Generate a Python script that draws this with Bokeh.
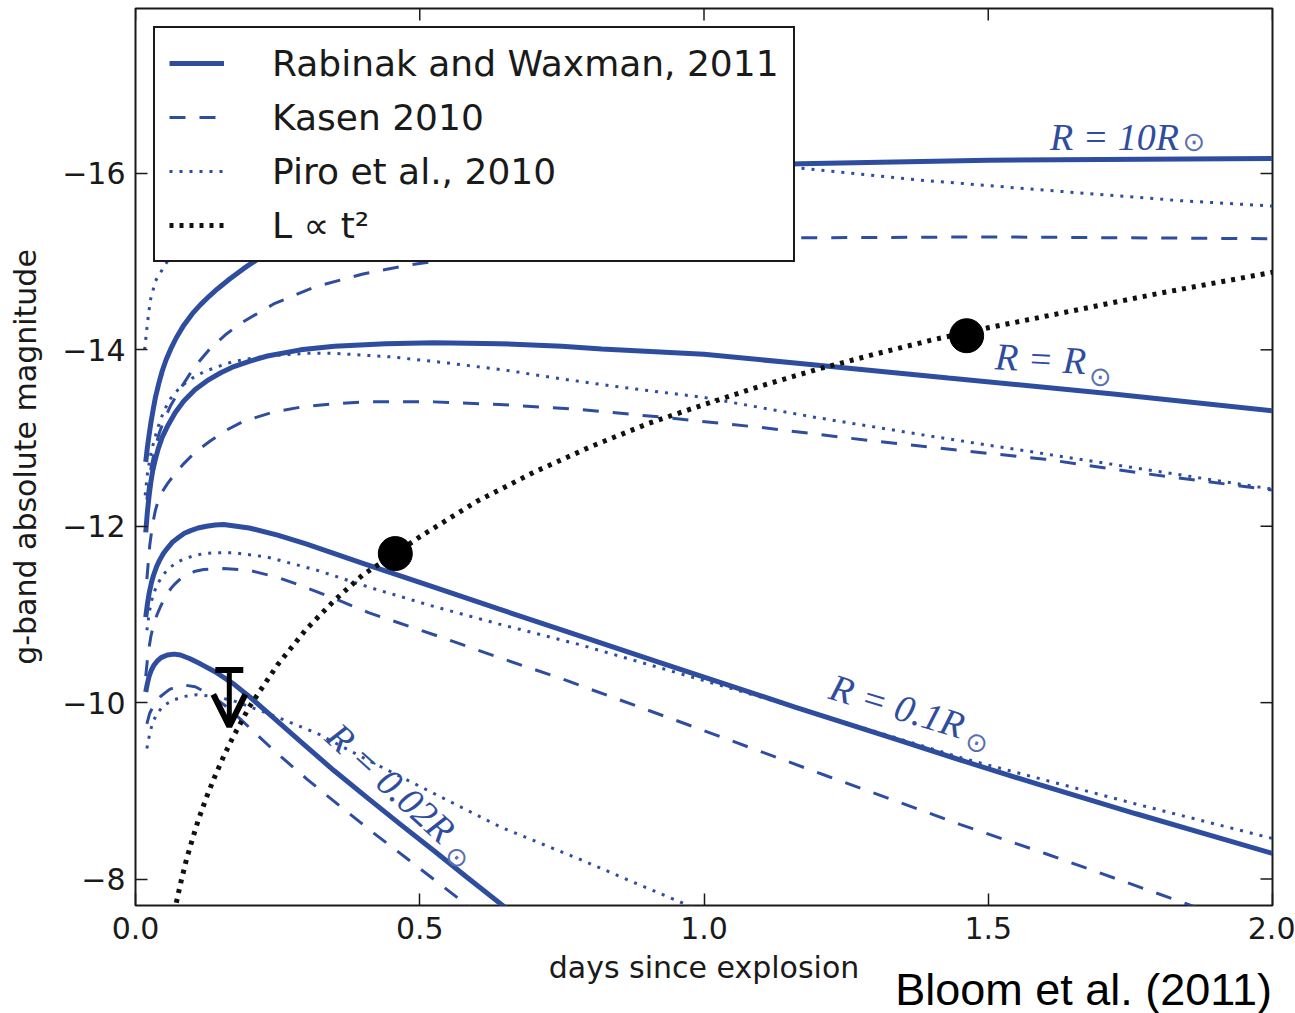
from bokeh.plotting import figure
from bokeh.layouts import column
from bokeh.models import (Range1d, FixedTicker, Legend, LegendItem,
                          Label, Arrow, OpenHead, Div)
from bokeh.embed import file_html
from bokeh.resources import INLINE

# ---------------------------------------------------------------- data
# g-band absolute magnitude vs. days since explosion, for four progenitor radii
# Rabinak & Waxman 2011 (solid)
t_rw_10 = [0.018, 0.021, 0.024, 0.027, 0.031, 0.035, 0.041, 0.047, 0.054, 0.062, 0.072, 0.085, 0.1, 0.114, 0.13, 0.144, 0.165, 0.19, 0.22, 0.25, 0.3, 0.35, 0.42, 0.5, 0.6, 0.7, 0.9, 1.17, 1.5, 2.0]
m_rw_10 = [-12.73, -12.90, -13.04, -13.17, -13.32, -13.46, -13.62, -13.76, -13.89, -14.01, -14.14, -14.28, -14.41, -14.51, -14.61, -14.69, -14.80, -14.92, -15.05, -15.17, -15.33, -15.47, -15.62, -15.76, -15.88, -15.97, -16.06, -16.11, -16.15, -16.17]

t_rw_1 = [0.018, 0.021, 0.024, 0.027, 0.03, 0.035, 0.04, 0.047, 0.056, 0.07, 0.085, 0.105, 0.126, 0.15, 0.173, 0.2, 0.232, 0.29, 0.35, 0.44, 0.525, 0.64, 0.75, 0.82, 1.0, 1.16, 1.43, 1.72, 2.0]
m_rw_1 = [-11.93, -12.17, -12.35, -12.50, -12.62, -12.76, -12.88, -13.01, -13.13, -13.29, -13.42, -13.55, -13.65, -13.74, -13.81, -13.87, -13.93, -14.00, -14.04, -14.07, -14.08, -14.07, -14.04, -14.01, -13.95, -13.85, -13.68, -13.50, -13.31]

t_rw_01 = [0.018, 0.021, 0.024, 0.028, 0.032, 0.037, 0.042, 0.049, 0.056, 0.065, 0.075, 0.086, 0.097, 0.11, 0.125, 0.14, 0.155, 0.2, 0.25, 0.3, 0.35, 0.4, 0.45, 0.525, 0.64, 0.78, 0.92, 1.0, 1.16, 1.33, 1.46, 1.59, 1.76, 2.0]
m_rw_01 = [-10.97, -11.12, -11.24, -11.36, -11.45, -11.54, -11.61, -11.69, -11.75, -11.82, -11.87, -11.92, -11.95, -11.98, -12.00, -12.015, -12.02, -11.98, -11.90, -11.80, -11.69, -11.58, -11.47, -11.31, -11.06, -10.76, -10.46, -10.29, -9.95, -9.60, -9.33, -9.07, -8.74, -8.29]

t_rw_002 = [0.018, 0.021, 0.024, 0.028, 0.032, 0.038, 0.045, 0.056, 0.068, 0.079, 0.095, 0.114, 0.14, 0.173, 0.2, 0.232, 0.29, 0.349, 0.408, 0.466, 0.525, 0.583, 0.648, 0.66]
m_rw_002 = [-10.12, -10.22, -10.30, -10.37, -10.42, -10.47, -10.51, -10.54, -10.55, -10.54, -10.50, -10.44, -10.35, -10.21, -10.07, -9.89, -9.56, -9.23, -8.92, -8.62, -8.32, -8.02, -7.69, -7.63]

# Kasen 2010 (dashed)
t_ka_10 = [0.02, 0.027, 0.035, 0.042, 0.05, 0.062, 0.079, 0.103, 0.132, 0.16, 0.185, 0.243, 0.314, 0.40, 0.48, 0.6, 0.8, 1.0, 1.17, 1.5, 2.0]
m_ka_10 = [-12.30, -12.65, -12.90, -13.06, -13.20, -13.37, -13.56, -13.80, -14.02, -14.18, -14.30, -14.52, -14.71, -14.86, -14.96, -15.07, -15.18, -15.24, -15.27, -15.28, -15.26]

t_ka_1 = [0.02, 0.025, 0.03, 0.035, 0.04, 0.047, 0.056, 0.07, 0.085, 0.105, 0.132, 0.16, 0.19, 0.24, 0.29, 0.35, 0.41, 0.525, 0.64, 0.77, 0.92, 1.1, 1.28, 1.45, 1.6, 1.76, 2.0]
m_ka_1 = [-11.40, -11.78, -12.02, -12.18, -12.29, -12.39, -12.48, -12.60, -12.71, -12.84, -12.97, -13.09, -13.19, -13.29, -13.35, -13.39, -13.41, -13.41, -13.38, -13.33, -13.24, -13.12, -12.98, -12.86, -12.76, -12.61, -12.41]

t_ka_01 = [0.018, 0.022, 0.027, 0.031, 0.035, 0.04, 0.044, 0.05, 0.056, 0.063, 0.07, 0.08, 0.091, 0.105, 0.12, 0.155, 0.2, 0.25, 0.29, 0.35, 0.41, 0.525, 0.64, 0.75, 0.98, 1.22, 1.45, 1.6, 1.84, 1.9]
m_ka_01 = [-10.30, -10.55, -10.75, -10.86, -10.95, -11.03, -11.09, -11.17, -11.24, -11.30, -11.35, -11.41, -11.45, -11.49, -11.51, -11.52, -11.50, -11.42, -11.33, -11.18, -11.02, -10.77, -10.51, -10.27, -9.73, -9.16, -8.62, -8.29, -7.74, -7.60]

t_ka_002 = [0.02, 0.025, 0.032, 0.038, 0.044, 0.052, 0.06, 0.072, 0.085, 0.105, 0.126, 0.155, 0.185, 0.243, 0.302, 0.361, 0.419, 0.478, 0.572, 0.6]
m_ka_002 = [-9.76, -9.88, -9.97, -10.03, -10.07, -10.11, -10.15, -10.18, -10.20, -10.18, -10.11, -9.98, -9.81, -9.46, -9.13, -8.82, -8.52, -8.23, -7.76, -7.62]

# Piro et al. 2010 (dotted)
t_pi_10 = [0.016, 0.021, 0.026, 0.035, 0.05, 0.07, 0.1, 0.15, 0.2, 0.3, 0.45, 0.65, 0.9, 1.17, 1.37, 1.6, 1.84, 2.0]
m_pi_10 = [-14.00, -14.30, -14.56, -14.78, -14.94, -15.15, -15.40, -15.65, -15.82, -16.02, -16.15, -16.18, -16.13, -16.06, -15.93, -15.81, -15.69, -15.63]

t_pi_1 = [0.017, 0.021, 0.026, 0.033, 0.04, 0.05, 0.062, 0.079, 0.1, 0.12, 0.145, 0.173, 0.23, 0.3, 0.35, 0.45, 0.55, 0.65, 0.75, 0.85, 1.0, 1.2, 1.4, 1.6, 1.8, 2.0]
m_pi_1 = [-12.35, -12.60, -12.79, -12.98, -13.13, -13.31, -13.45, -13.58, -13.68, -13.75, -13.81, -13.87, -13.93, -13.96, -13.96, -13.92, -13.85, -13.77, -13.67, -13.58, -13.46, -13.23, -13.02, -12.82, -12.62, -12.42]

t_pi_01 = [0.02, 0.025, 0.03, 0.038, 0.05, 0.06, 0.073, 0.086, 0.1, 0.12, 0.14, 0.173, 0.232, 0.32, 0.41, 0.525, 0.64, 0.78, 1.0, 1.16, 1.46, 1.76, 2.0]
m_pi_01 = [-10.82, -11.05, -11.20, -11.34, -11.46, -11.53, -11.59, -11.63, -11.66, -11.69, -11.70, -11.70, -11.65, -11.50, -11.31, -11.09, -10.89, -10.66, -10.25, -9.95, -9.36, -8.85, -8.46]

t_pi_002 = [0.02, 0.025, 0.03, 0.038, 0.05, 0.067, 0.085, 0.108, 0.14, 0.173, 0.232, 0.32, 0.408, 0.525, 0.642, 0.783, 0.87, 0.98]
m_pi_002 = [-9.48, -9.65, -9.77, -9.88, -9.97, -10.03, -10.07, -10.09, -10.07, -10.02, -9.88, -9.65, -9.35, -8.97, -8.59, -8.22, -7.98, -7.68]

# L ∝ t^2 curve through the two detections
t_pow = [0.068, 0.08, 0.09, 0.1, 0.11, 0.125, 0.14, 0.155, 0.17, 0.2, 0.25, 0.3, 0.35, 0.4, 0.457, 0.5, 0.6, 0.7, 0.8, 0.9, 1.0, 1.1, 1.2, 1.3, 1.4, 1.5, 1.6, 1.7, 1.8, 1.9, 2.0]
m_pow = [-7.62, -7.97, -8.23, -8.45, -8.66, -8.93, -9.17, -9.39, -9.59, -9.95, -10.43, -10.83, -11.16, -11.45, -11.69, -11.88, -12.28, -12.61, -12.90, -13.16, -13.38, -13.59, -13.78, -13.95, -14.11, -14.25, -14.38, -14.51, -14.64, -14.76, -14.88]

# detections and the early upper limit
det_t = [0.457, 1.462]
det_m = [-11.69, -14.16]
lim_t = [0.165]
lim_m = [-10.37]

# axis ticks
x_ticks = [0.0, 0.5, 1.0, 1.5, 2.0]
x_tick_labels = ["0.0", "0.5", "1.0", "1.5", "2.0"]
y_ticks = [-16, -14, -12, -10, -8]
y_tick_labels = ["\u221216", "\u221214", "\u221212", "\u221210", "\u22128"]

legend_labels = ["Rabinak and Waxman, 2011", "Kasen 2010", "Piro et al., 2010", "L \u221d t\u00b2"]

# ---------------------------------------------------------------- style
BLUE = "#2f4d9e"
TXT = "#1a1a1a"
SANS = "DejaVu Sans"
SERIF = "Liberation Serif"
ARROW_LEN = 0.64  # length of the upper-limit arrow, in magnitudes
TICK_LEN = 12     # inward tick length, px

p = figure(width=1295, height=1013, output_backend="svg", toolbar_location=None,
           x_range=Range1d(0.0, 2.0), y_range=Range1d(-7.7, -17.87),
           min_border_left=135, min_border_right=23, min_border_top=8,
           min_border_bottom=108, background_fill_color="white",
           border_fill_color="white")
p.grid.visible = False
p.outline_line_color = "#1a1a1a"
p.outline_line_width = 2
p.outline_line_alpha = 1.0

for ax, ticks, labels in ((p.xaxis[0], x_ticks, x_tick_labels),
                          (p.yaxis[0], y_ticks, y_tick_labels)):
    ax.ticker = FixedTicker(ticks=ticks)
    ax.major_label_overrides = {t: l for t, l in zip(ticks, labels)}
    ax.major_tick_in = TICK_LEN
    ax.major_tick_out = 0
    ax.minor_tick_in = 0
    ax.minor_tick_out = 0
    ax.major_tick_line_color = "#1a1a1a"
    ax.major_tick_line_width = 1.5
    ax.axis_line_color = None
    ax.major_label_text_font = SANS
    ax.major_label_text_font_size = "30px"
    ax.major_label_text_color = TXT
    ax.axis_label_text_font = SANS
    ax.axis_label_text_font_size = "30px"
    ax.axis_label_text_font_style = "normal"
    ax.axis_label_text_color = TXT

p.xaxis.major_label_standoff = 11
p.yaxis.major_label_standoff = 10
p.xaxis.axis_label = "days since explosion"
p.yaxis.axis_label = "g-band absolute magnitude"
p.xaxis.axis_label_standoff = 8
p.yaxis.axis_label_standoff = 16

# mirrored inward ticks on the top and right edges (half of each mark is clipped by the frame)
p.scatter([p.x_range.end] * len(y_ticks), y_ticks, marker="dash", size=2 * TICK_LEN,
          line_color="#1a1a1a", line_width=1.5)
p.scatter(x_ticks, [p.y_range.end] * len(x_ticks), marker="dash", angle=90, angle_units="deg",
          size=2 * TICK_LEN, line_color="#1a1a1a", line_width=1.5)

# ---------------------------------------------------------------- curves
solid = dict(line_color=BLUE, line_width=5)
dashed = dict(line_color=BLUE, line_width=3, line_dash="16 14")
dotted = dict(line_color=BLUE, line_width=3, line_dash="3 7")

r_rw = None
for t, m in [(t_rw_10, m_rw_10), (t_rw_1, m_rw_1), (t_rw_01, m_rw_01), (t_rw_002, m_rw_002)]:
    r = p.line(t, m, **solid)
    r_rw = r_rw or r
r_ka = None
for t, m in [(t_ka_10, m_ka_10), (t_ka_1, m_ka_1), (t_ka_01, m_ka_01), (t_ka_002, m_ka_002)]:
    r = p.line(t, m, **dashed)
    r_ka = r_ka or r
r_pi = None
for t, m in [(t_pi_10, m_pi_10), (t_pi_1, m_pi_1), (t_pi_01, m_pi_01), (t_pi_002, m_pi_002)]:
    r = p.line(t, m, **dotted)
    r_pi = r_pi or r

r_pow = p.line(t_pow, m_pow, line_color="#111111", line_width=5, line_dash="4 6")
p.scatter(det_t, det_m, size=34, marker="circle", fill_color="black", line_color="black")

# upper limit: cap plus downward arrow
p.scatter(lim_t, lim_m, marker="dash", size=28, line_width=6, line_color="black")
for t, m in zip(lim_t, lim_m):
    p.add_layout(Arrow(end=OpenHead(size=32, line_width=6, line_color="black"),
                       x_start=t, y_start=m, x_end=t, y_end=m + ARROW_LEN,
                       line_width=5, line_color="black"))

# ---------------------------------------------------------------- radius labels
def radius_label(x, y, text, angle, sx, sy, baseline="middle"):
    p.add_layout(Label(x=x, y=y, text=text, angle=angle, angle_units="deg",
                       text_font=SERIF, text_font_style="italic", text_font_size="38px",
                       text_color=BLUE, text_align="center", text_baseline=baseline))
    p.add_layout(Label(x=sx, y=sy, text="\u2299", angle=angle, angle_units="deg",
                       text_font=SANS, text_font_size="27px", text_color="#5a6fb0",
                       text_align="center", text_baseline="middle"))

radius_label(1.722, -16.41, "R = 10R", 0, 1.862, -16.36, baseline="alphabetic")
radius_label(1.592, -13.90, "R = R", -3, 1.697, -13.70)
radius_label(1.340, -9.96, "R = 0.1R", -17, 1.480, -9.55)
radius_label(0.449, -9.09, "R = 0.02R", -42, 0.566, -8.25)

# ---------------------------------------------------------------- legend
legend = Legend(items=[LegendItem(label=legend_labels[0], renderers=[r_rw]),
                       LegendItem(label=legend_labels[1], renderers=[r_ka]),
                       LegendItem(label=legend_labels[2], renderers=[r_pi]),
                       LegendItem(label=legend_labels[3], renderers=[r_pow])],
                location="top_left", margin=18, padding=14, spacing=12,
                glyph_width=55, glyph_height=20, label_standoff=48, label_height=42,
                label_text_font=SANS, label_text_font_size="36px", label_text_color=TXT,
                border_line_color="#1a1a1a", border_line_width=2, border_line_alpha=1.0,
                background_fill_color="white", background_fill_alpha=1.0)
p.add_layout(legend)

# credit line under the lower-right corner of the plot
credit = Div(text="Bloom et al. (2011)", width=420, height=40, margin=(-46, 0, 0, 852),
             styles={"font-family": "Liberation Sans, Arial, sans-serif", "font-size": "45px",
                     "line-height": "1", "color": "black", "text-align": "right",
                     "white-space": "nowrap"})

page = column(p, credit, spacing=0)
open("out.html", "w").write(file_html(page, INLINE))
